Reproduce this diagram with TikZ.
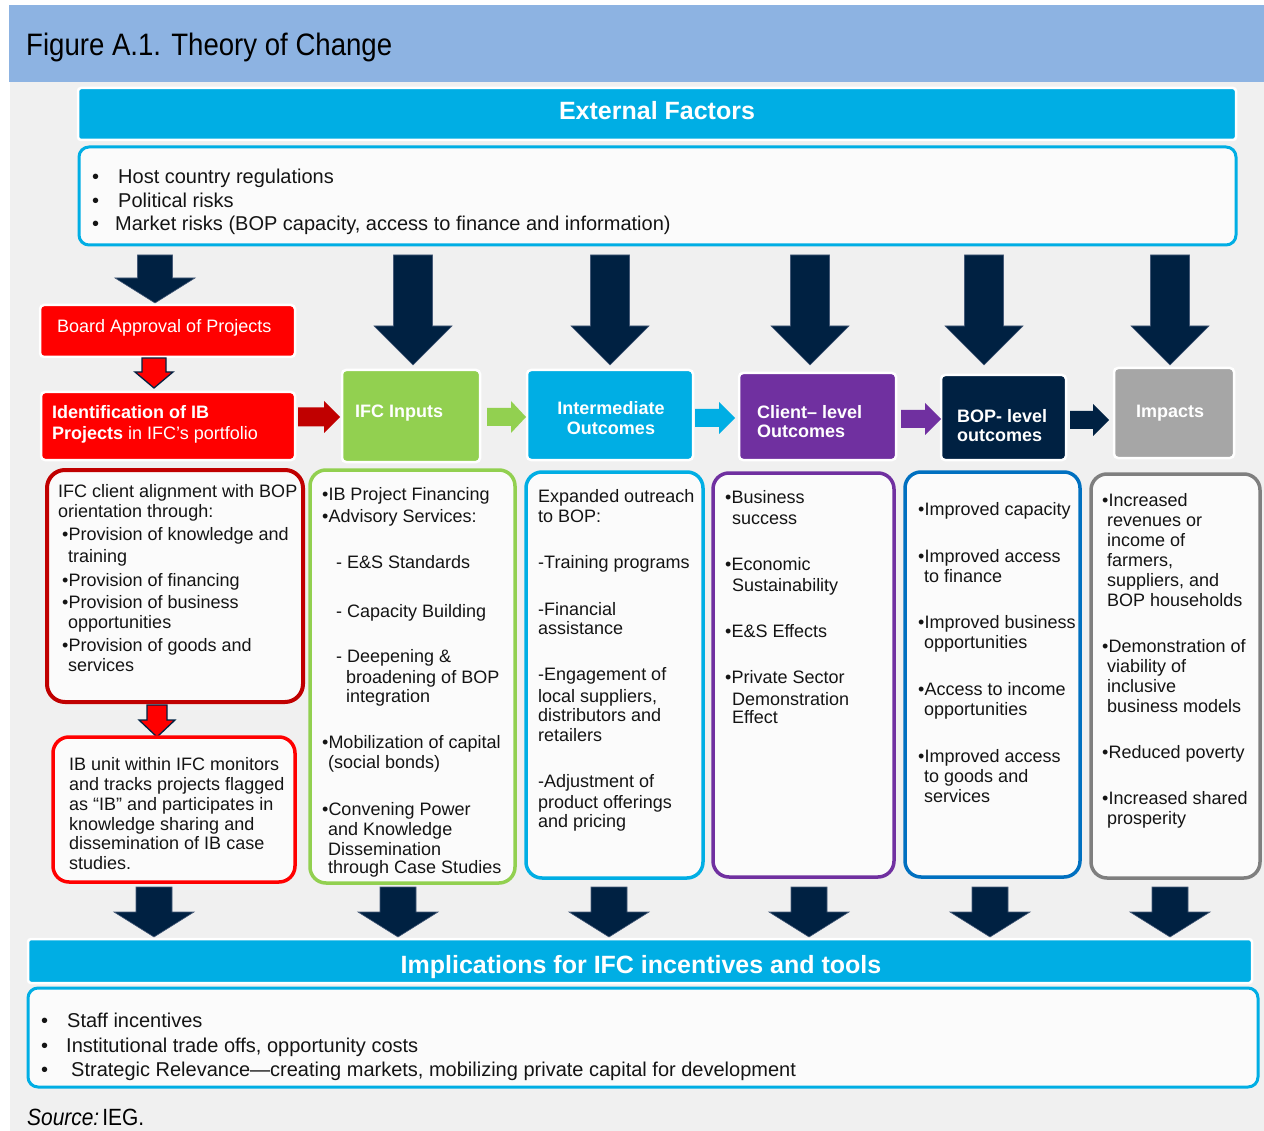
\documentclass[tikz,border=0pt]{standalone}
\usepackage{fontspec}
\setmainfont{Liberation Sans}
\newfontfamily\condfont[FakeStretch=0.89]{Liberation Sans}
\definecolor{bandblue}{RGB}{141,179,226}
\definecolor{bggray}{RGB}{240,240,240}
\definecolor{cyanA}{RGB}{0,174,228}
\definecolor{navyA}{RGB}{0,33,66}
\definecolor{redA}{RGB}{255,0,0}
\definecolor{darkred}{RGB}{192,0,0}
\definecolor{greenA}{RGB}{146,208,80}
\definecolor{purpleA}{RGB}{112,48,160}
\definecolor{blueA}{RGB}{0,112,192}
\definecolor{grayA}{RGB}{166,166,166}
\definecolor{grayB}{RGB}{127,127,127}
\definecolor{boxfill}{RGB}{251,251,251}
\definecolor{txtcol}{RGB}{20,20,20}
\newcommand{\MkBox}[6]{\node[#2, minimum width={#5pt-#3pt}, minimum height={#6pt-#4pt}] (#1) at ({(#3+#5)/2},{(#4+#6)/2}) {};}
% style, cx, ytop, yhead, ytip, shaft half, head half
\newcommand{\DArr}[7]{\path[#1] ({#2-#6},#3) -- ({#2+#6},#3) -- ({#2+#6},#4) -- ({#2+#7},#4) -- (#2,#5) -- ({#2-#7},#4) -- ({#2-#6},#4) -- cycle;}
% style, cy, xleft, xhead, xtip, shaft half, head half
\newcommand{\RArr}[7]{\path[#1] (#3,{#2-#6}) -- (#4,{#2-#6}) -- (#4,{#2-#7}) -- (#5,#2) -- (#4,{#2+#7}) -- (#4,{#2+#6}) -- (#3,{#2+#6}) -- cycle;}
\tikzset{
  hbox/.style={draw=white, line width=2.5pt, rounded corners=4pt, inner sep=0pt},
  cbox/.style={fill=boxfill, line width=3.5pt, rounded corners=16pt, inner sep=0pt},
  txt/.style={anchor=base west, inner sep=0pt, font=\fontsize{18}{20}\selectfont, text=txtcol},
  btxt/.style={anchor=base west, inner sep=0pt, font=\fontsize{20}{22}\selectfont, text=txtcol},
  htxt/.style={anchor=base west, inner sep=0pt, font=\fontsize{18}{20}\selectfont\bfseries, text=white},
  hrtxt/.style={anchor=base west, inner sep=0pt, font=\fontsize{18}{20}\selectfont, text=white},
  bandtxt/.style={anchor=base, inner sep=0pt, font=\fontsize{25}{28}\selectfont\bfseries, text=white},
  navyarr/.style={fill=navyA, draw={rgb,255:red,70;green,90;blue,120}, line width=0.6pt},
  redarr/.style={fill=redA, draw=navyA, line width=1.3pt},
}
\begin{document}
\begin{tikzpicture}[x=1pt,y=-1pt]
\useasboundingbox (0,0) rectangle (1264,1131);
\fill[white] (0,0) rectangle (1264,1131);
\fill[bggray] (10,82) rectangle (1264,1131);
\fill[bandblue] (9,5) rectangle (1264,82);
\node[anchor=base west, inner sep=0pt, font=\condfont\fontsize{31}{33}\selectfont, text=black] (title) at (26,56) {Figure A.1. Theory of Change};

% External factors
\MkBox{extHead}{hbox, fill=cyanA, rounded corners=3pt}{78}{88}{1236}{140}
\node[bandtxt] (extT) at (657,120) {External Factors};
\MkBox{extBox}{cbox, draw=cyanA, line width=3pt, rounded corners=10pt}{79}{147}{1236}{245}
\foreach \yy/\xx/\tt [count=\i] in {184/118/Host country regulations, 208/118/Political risks, 231/115/{Market risks (BOP capacity, access to finance and information)}}{
  \node[btxt] (eb\i) at (92,\yy) {•};
  \node[btxt] (et\i) at (\xx,\yy) {\tt};
}

% top arrows
\DArr{navyarr}{155}{255}{278}{303}{17.5}{40}
\foreach \cx in {413,610,810,984,1170}{\DArr{navyarr}{\cx}{255}{326}{365}{19.5}{39}}

% header boxes
\MkBox{board}{hbox, fill=redA}{40}{305}{295}{357}
\node[hrtxt] (boardT) at (57,333) {Board Approval of Projects};
\DArr{redarr}{154}{358}{372}{388}{12}{19}
\MkBox{ident}{hbox, fill=redA}{41}{392}{295}{460}
\node[htxt] (identT1) at (52,419) {Identification of IB};
\node[hrtxt] (identT2) at (52,439) {\textbf{Projects} in IFC’s portfolio};
\MkBox{inputs}{hbox, fill=greenA}{342}{370}{480}{462}
\node[htxt] (inputsT) at (355,418) {IFC Inputs};
\MkBox{interm}{hbox, fill=cyanA}{527}{370}{693}{460}
\node[htxt, anchor=base] (intermT1) at (611,415) {Intermediate};
\node[htxt, anchor=base] (intermT2) at (611,435) {Outcomes};
\MkBox{client}{hbox, fill=purpleA}{739}{373}{896}{460}
\node[htxt] (clientT1) at (757,419) {Client– level};
\node[htxt] (clientT2) at (757,438) {Outcomes};
\MkBox{bop}{hbox, fill=navyA}{941}{375}{1066}{460}
\node[htxt] (bopT1) at (957,423) {BOP- level};
\node[htxt] (bopT2) at (957,442) {outcomes};
\MkBox{impacts}{hbox, fill=grayA}{1114}{368}{1234}{458}
\node[htxt] (impactsT) at (1136,418) {Impacts};

% right arrows
\RArr{fill=darkred}{417}{298}{324}{340}{9.5}{16}
\RArr{fill=greenA}{417}{487}{511}{526}{9}{16}
\RArr{fill=cyanA}{418}{695}{719}{735}{9}{16}
\RArr{fill=purpleA}{419}{901}{925}{941}{9}{16}
\RArr{fill=navyA}{420}{1070}{1093}{1109}{9}{16}

% lower boxes
\MkBox{bA}{cbox, draw=darkred, line width=4pt, rounded corners=18pt}{47}{470}{303}{702}
\DArr{redarr}{157}{705}{720}{737}{10}{18}
\MkBox{bB}{cbox, draw=redA}{53}{737}{295}{882}
\MkBox{bC}{cbox, draw=greenA}{310}{470}{515}{883}
\MkBox{bD}{cbox, draw=cyanA}{526}{472}{703}{878}
\MkBox{bE}{cbox, draw=purpleA}{713}{473}{894}{877}
\MkBox{bF}{cbox, draw=blueA}{905}{472}{1080}{877}
\MkBox{bG}{cbox, draw=grayB}{1091}{474}{1260}{878}

\foreach \xx/\yy/\tt [count=\i] in {
  58/497/IFC client alignment with BOP, 58/517/orientation through:,
  62/540/•Provision of knowledge and, 68/562/training,
  62/586/•Provision of  financing, 62/608/•Provision of  business,
  68/628/opportunities, 62/651/•Provision of  goods and, 68/671/services}
  {\node[txt] (ta\i) at (\xx,\yy) {\tt};}
\foreach \yy/\tt [count=\i] in {
  770/IB unit within IFC monitors, 790/and tracks projects flagged,
  810/as “IB” and participates in, 830/knowledge sharing and,
  849/dissemination of IB case, 869/studies.}
  {\node[txt] (tb\i) at (69,\yy) {\tt};}
\foreach \xx/\yy/\tt [count=\i] in {
  322/500/•IB Project Financing, 322/522/•Advisory Services:,
  336/568/- E\&S Standards, 336/617/- Capacity Building,
  336/662/- Deepening \&, 346/683/broadening of BOP, 346/702/integration,
  322/748/•Mobilization of capital, 328/768/(social bonds),
  322/815/•Convening Power, 328/835/and Knowledge,
  328/855/Dissemination, 328/873/through Case Studies}
  {\node[txt] (tc\i) at (\xx,\yy) {\tt};}
\foreach \yy/\tt [count=\i] in {
  502/Expanded outreach, 522/to BOP:, 568/-Training programs,
  615/-Financial, 634/assistance, 680/-Engagement of,
  702/{local suppliers,}, 721/distributors and, 741/retailers,
  787/-Adjustment of, 808/product offerings, 827/and pricing}
  {\node[txt] (td\i) at (538,\yy) {\tt};}
\foreach \xx/\yy/\tt [count=\i] in {
  725/503/•Business, 732/524/success, 725/570/•Economic,
  732/591/Sustainability, 725/637/•E\&S Effects,
  725/683/•Private Sector, 732/705/Demonstration, 732/723/Effect}
  {\node[txt] (te\i) at (\xx,\yy) {\tt};}
\foreach \xx/\yy/\tt [count=\i] in {
  918/515/•Improved capacity, 918/562/•Improved access, 924/582/to finance,
  918/628/•Improved business, 924/648/opportunities,
  918/695/•Access to income, 924/715/opportunities,
  918/762/•Improved access, 924/782/to goods and, 924/802/services}
  {\node[txt] (tf\i) at (\xx,\yy) {\tt};}
\foreach \xx/\yy/\tt [count=\i] in {
  1102/506/•Increased, 1107/526/revenues or, 1107/546/income of,
  1107/566/{farmers,}, 1107/586/{suppliers, and}, 1107/606/BOP households,
  1102/652/•Demonstration of, 1107/672/viability of, 1107/692/inclusive,
  1107/712/business models, 1102/758/•Reduced poverty,
  1102/804/•Increased shared, 1107/824/prosperity}
  {\node[txt] (tg\i) at (\xx,\yy) {\tt};}

% bottom arrows
\foreach \cx in {154,398,609,809,990,1170}{\DArr{navyarr}{\cx}{887}{912}{937}{18}{40}}

% implications
\MkBox{implHead}{hbox, fill=cyanA, rounded corners=3pt}{28}{939}{1252}{983}
\node[bandtxt] (implT) at (641,973) {Implications for IFC incentives and tools};
\MkBox{implBox}{cbox, draw=cyanA, line width=3pt, rounded corners=10pt}{28}{988}{1258}{1087}
\foreach \yy/\xx/\tt [count=\i] in {1027/67/Staff incentives, 1052/66/{Institutional trade offs, opportunity costs}, 1076/71/{Strategic Relevance—creating markets, mobilizing private capital for development}}{
  \node[btxt] (ib\i) at (41,\yy) {•};
  \node[btxt] (it\i) at (\xx,\yy) {\tt};
}
\node[anchor=base west, inner sep=0pt, font=\condfont\fontsize{23.5}{26}\selectfont, text=black] (source) at (27,1125) {\textit{Source:}\hspace{3pt}IEG.};
\end{tikzpicture}
\end{document}
